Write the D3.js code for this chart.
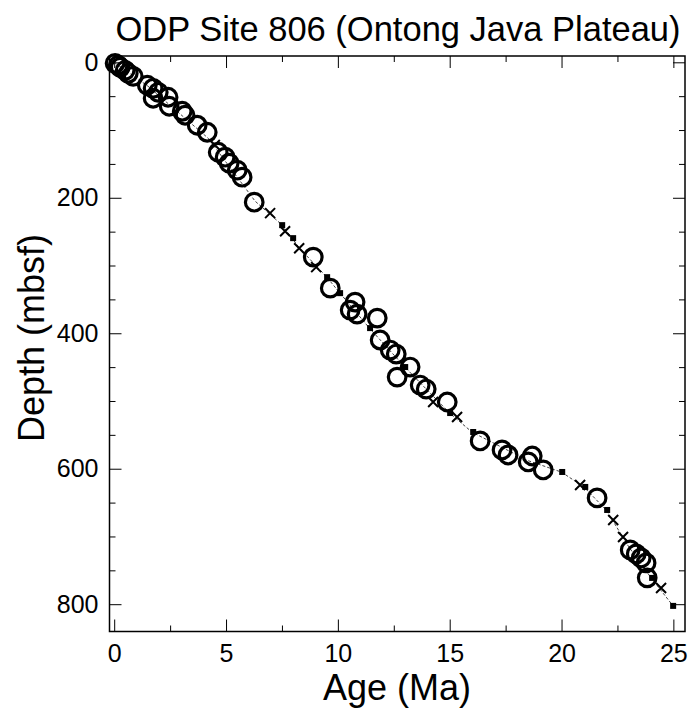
<!DOCTYPE html>
<html><head><meta charset="utf-8">
<script src="https://cdn.jsdelivr.net/npm/d3@7"></script>
<style>body{margin:0;background:#fff}svg{display:block}text{font-family:"Liberation Sans",Arial,sans-serif}</style>
</head><body><svg id="c" width="691" height="717"></svg>
<script>
const title = "ODP Site 806 (Ontong Java Plateau)";
const xLabel = "Age (Ma)";
const yLabel = "Depth (mbsf)";
const xTicks = [0, 5, 10, 15, 20, 25];
const yTicks = [0, 200, 400, 600, 800];

// open circles
const circleAge = [0.04,0.18,0.27,0.49,0.63,0.85,1.48,1.74,1.74,1.97,2.41,2.46,3.04,3.17,3.71,4.16,4.65,4.96,5.14,5.50,5.72,6.26,8.90,9.66,10.77,10.55,10.86,11.76,11.89,12.34,12.61,12.65,13.23,13.68,13.95,14.89,16.36,17.34,17.61,18.69,18.51,19.18,21.59,23.07,23.34,23.56,23.78,23.83];
const circleDepth = [1.5,4.4,7.4,11.8,16.2,20.7,33.9,38.4,53.1,44.3,51.6,64.9,72.3,78.2,92.9,103.3,132.8,140.1,149,159.3,169.6,206.5,287.7,333.4,354,365.8,371.7,377.6,410,424.8,430.7,464.7,449.9,476.5,482.4,501.5,559,572.3,579.7,581.2,590,601.8,643.1,719.9,725.8,731.7,739,761];
// crosses
const crossAge = [4.5,6.97,7.64,8.27,9.03,14.26,15.33,20.83,22.31,22.75,24.45];
const crossDepth = [122,222.7,249.3,274.4,302.4,501.5,523.7,624,675.6,700.7,776];
// small filled squares
const squareAge = [7.51,8.0,9.52,10.1,11.44,13.01,15.02,16.05,20.03,21.06,22.04,24.05,24.99];
const squareDepth = [240.4,259.6,317.2,340.8,392.4,449.9,517.8,545.8,604.8,626.9,660.9,761.2,802.5];
// age-depth model line
const modelAge = [0,1.5,4.2,6.3,7.5,8.3,9.5,10.1,11.4,13.0,15.0,16.0,18.5,20.0,21.0,22.0,23.0,24.0,25.0];
const modelDepth = [0,35,112,205,240,275,317,341,392,450,518,546,588,605,627,661,715,761,803];

const svg = d3.select("#c");
const L = 109.5, R = 685, T = 56, B = 631.5;
const x = d3.scaleLinear().domain([-0.21, 25.52]).range([L, R]);
const y = d3.scaleLinear().domain([-9.3, 840.3]).range([T, B]);

// model line
svg.append("path")
  .datum(d3.zip(modelAge, modelDepth))
  .attr("fill", "none").attr("stroke", "#444").attr("stroke-width", 1)
  .attr("stroke-dasharray", "3,2")
  .attr("d", d3.line().x(d => x(d[0])).y(d => y(d[1])));

// squares
const sq = 6;
svg.append("g").selectAll("rect").data(d3.zip(squareAge, squareDepth)).join("rect")
  .attr("x", d => x(d[0]) - sq/2).attr("y", d => y(d[1]) - sq/2)
  .attr("width", sq).attr("height", sq).attr("fill", "#000");

// crosses
const cs = 5;
svg.append("g").selectAll("path").data(d3.zip(crossAge, crossDepth)).join("path")
  .attr("d", d => { const cx = x(d[0]), cy = y(d[1]);
    return `M${cx-cs},${cy-cs}L${cx+cs},${cy+cs}M${cx-cs},${cy+cs}L${cx+cs},${cy-cs}`; })
  .attr("stroke", "#000").attr("stroke-width", 2).attr("fill", "none");

// circles
svg.append("g").selectAll("circle").data(d3.zip(circleAge, circleDepth)).join("circle")
  .attr("cx", d => x(d[0])).attr("cy", d => y(d[1])).attr("r", 8.8)
  .attr("fill", "none").attr("stroke", "#000").attr("stroke-width", 3.2);

// axes
const fmt = d3.format("d");
const xMinor = [2.5,7.5,12.5,17.5,22.5];
const yMinor = d3.range(50, 840, 50).filter(v => v % 200);
const gBottom = svg.append("g").attr("transform", `translate(0,${B})`)
  .call(d3.axisBottom(x).tickValues(xTicks).tickSize(-12).tickPadding(13).tickFormat(fmt));
const gBottomMinor = svg.append("g").attr("transform", `translate(0,${B})`)
  .call(d3.axisBottom(x).tickValues(xMinor).tickSize(-6).tickFormat(""));
const gTop = svg.append("g").attr("transform", `translate(0,${T})`)
  .call(d3.axisTop(x).tickValues(xTicks).tickSize(-12).tickFormat(""));
const gTopMinor = svg.append("g").attr("transform", `translate(0,${T})`)
  .call(d3.axisTop(x).tickValues(xMinor).tickSize(-6).tickFormat(""));
const gLeft = svg.append("g").attr("transform", `translate(${L},0)`)
  .call(d3.axisLeft(y).tickValues(yTicks).tickSize(-12).tickPadding(11).tickFormat(fmt));
const gLeftMinor = svg.append("g").attr("transform", `translate(${L},0)`)
  .call(d3.axisLeft(y).tickValues(yMinor).tickSize(-6).tickFormat(""));
const gRight = svg.append("g").attr("transform", `translate(${R},0)`)
  .call(d3.axisRight(y).tickValues(yTicks).tickSize(-12).tickFormat(""));
const gRightMinor = svg.append("g").attr("transform", `translate(${R},0)`)
  .call(d3.axisRight(y).tickValues(yMinor).tickSize(-6).tickFormat(""));
[gBottom,gBottomMinor,gTop,gTopMinor,gLeft,gLeftMinor,gRight,gRightMinor].forEach(g => {
  g.select(".domain").remove();
  g.selectAll("line").attr("stroke", "#000").attr("stroke-width", 1);
  g.selectAll("text").attr("font-size", 25).attr("fill", "#000")
    .attr("font-family", "'Liberation Sans', Arial, sans-serif");
});

svg.append("rect").attr("x", L).attr("y", T).attr("width", R - L).attr("height", B - T)
  .attr("fill", "none").attr("stroke", "#000").attr("stroke-width", 1.5);

svg.append("text").attr("x", 398).attr("y", 41).attr("text-anchor", "middle")
  .attr("font-size", 34.5).text(title);
svg.append("text").attr("x", 397).attr("y", 700).attr("text-anchor", "middle")
  .attr("font-size", 36).text(xLabel);
svg.append("text").attr("transform", "translate(44,338) rotate(-90)").attr("text-anchor", "middle")
  .attr("font-size", 36).text(yLabel);
</script></body></html>
